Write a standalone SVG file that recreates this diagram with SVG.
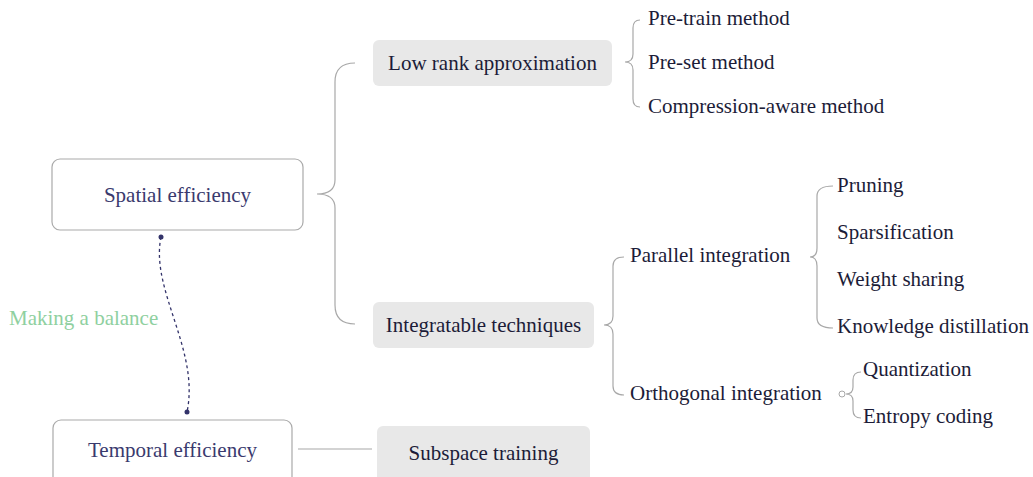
<svg xmlns="http://www.w3.org/2000/svg" width="1033" height="477" viewBox="0 0 1033 477">
<style>
text{font-family:'Liberation Serif',serif;font-size:21px;}
.main{fill:#3a3a6e;}
.dark{fill:#1c1c38;}
.mbox{fill:#ffffff;stroke:#aaaaaa;stroke-width:1.2;}
.gbox{fill:#e8e8e8;}
.br{fill:none;stroke:#a8a8a8;stroke-width:1.2;}
</style>
<rect width="1033" height="477" fill="#ffffff"/>
<g id="connectors">
<path class="br" d="M355,63 Q335,63 335,82 L335,180 Q335,194 317,194 Q335,194 335,208 L335,305 Q335,324 355,324"/>
<path class="br" d="M640,20 Q633,20 633,28 L633,54 Q633,62 625,62 Q633,62 633,70 L633,99 Q633,107 640,107"/>
<path class="br" d="M624,257 Q613,257 613,266 L613,316 Q613,325 604,325 Q613,325 613,334 L613,386 Q613,395 624,395"/>
<path class="br" d="M833,186 Q817,186 817,196 L817,248 Q817,257 810,257 Q817,257 817,266 L817,318 Q817,328 833,328"/>
<path class="br" d="M861,372 Q853,372 853,380 L853,387 Q853,394 846,394 Q853,394 853,401 L853,410 Q853,418 861,418"/>
<circle cx="842" cy="394" r="3" fill="#ffffff" stroke="#a8a8a8" stroke-width="1"/>
<line class="br" x1="298" y1="449" x2="372" y2="449"/>
<path d="M161,237 C150,290 200,350 187,412" fill="none" stroke="#33336a" stroke-width="1.3" stroke-dasharray="3,3"/>
<circle cx="161" cy="237" r="2.5" fill="#33336a"/>
<circle cx="187" cy="412" r="2.5" fill="#33336a"/>
<text x="9" y="325" fill="#8fd0a0">Making a balance</text>
</g>
<g id="spatial">
<rect class="mbox" x="52" y="159" width="251" height="71" rx="8"/>
<text class="main" x="177.5" y="202" text-anchor="middle">Spatial efficiency</text>
</g>
<g id="temporal">
<rect class="mbox" x="53" y="420" width="239" height="71" rx="8"/>
<text class="main" x="172.5" y="457" text-anchor="middle">Temporal efficiency</text>
</g>
<g id="lowrank">
<rect class="gbox" x="373" y="40" width="239" height="46" rx="6"/>
<text class="dark" x="492.5" y="70" text-anchor="middle">Low rank approximation</text>
</g>
<g id="integratable">
<rect class="gbox" x="373" y="302" width="221" height="46" rx="6"/>
<text class="dark" x="483.5" y="332" text-anchor="middle">Integratable techniques</text>
</g>
<g id="subspace">
<rect class="gbox" x="377" y="426" width="213" height="60" rx="6"/>
<text class="dark" x="483.5" y="460" text-anchor="middle">Subspace training</text>
</g>
<g id="pretrain"><text class="dark" x="648" y="25">Pre-train method</text></g>
<g id="preset"><text class="dark" x="648" y="69">Pre-set method</text></g>
<g id="compression"><text class="dark" x="648" y="113">Compression-aware method</text></g>
<g id="parallel"><text class="dark" x="630" y="262">Parallel integration</text></g>
<g id="orthogonal"><text class="dark" x="630" y="400">Orthogonal integration</text></g>
<g id="pruning"><text class="dark" x="837" y="192">Pruning</text></g>
<g id="sparsification"><text class="dark" x="837" y="239">Sparsification</text></g>
<g id="weightsharing"><text class="dark" x="837" y="286">Weight sharing</text></g>
<g id="distillation"><text class="dark" x="837" y="333">Knowledge distillation</text></g>
<g id="quantization"><text class="dark" x="863" y="376">Quantization</text></g>
<g id="entropy"><text class="dark" x="863" y="423">Entropy coding</text></g>
</svg>
